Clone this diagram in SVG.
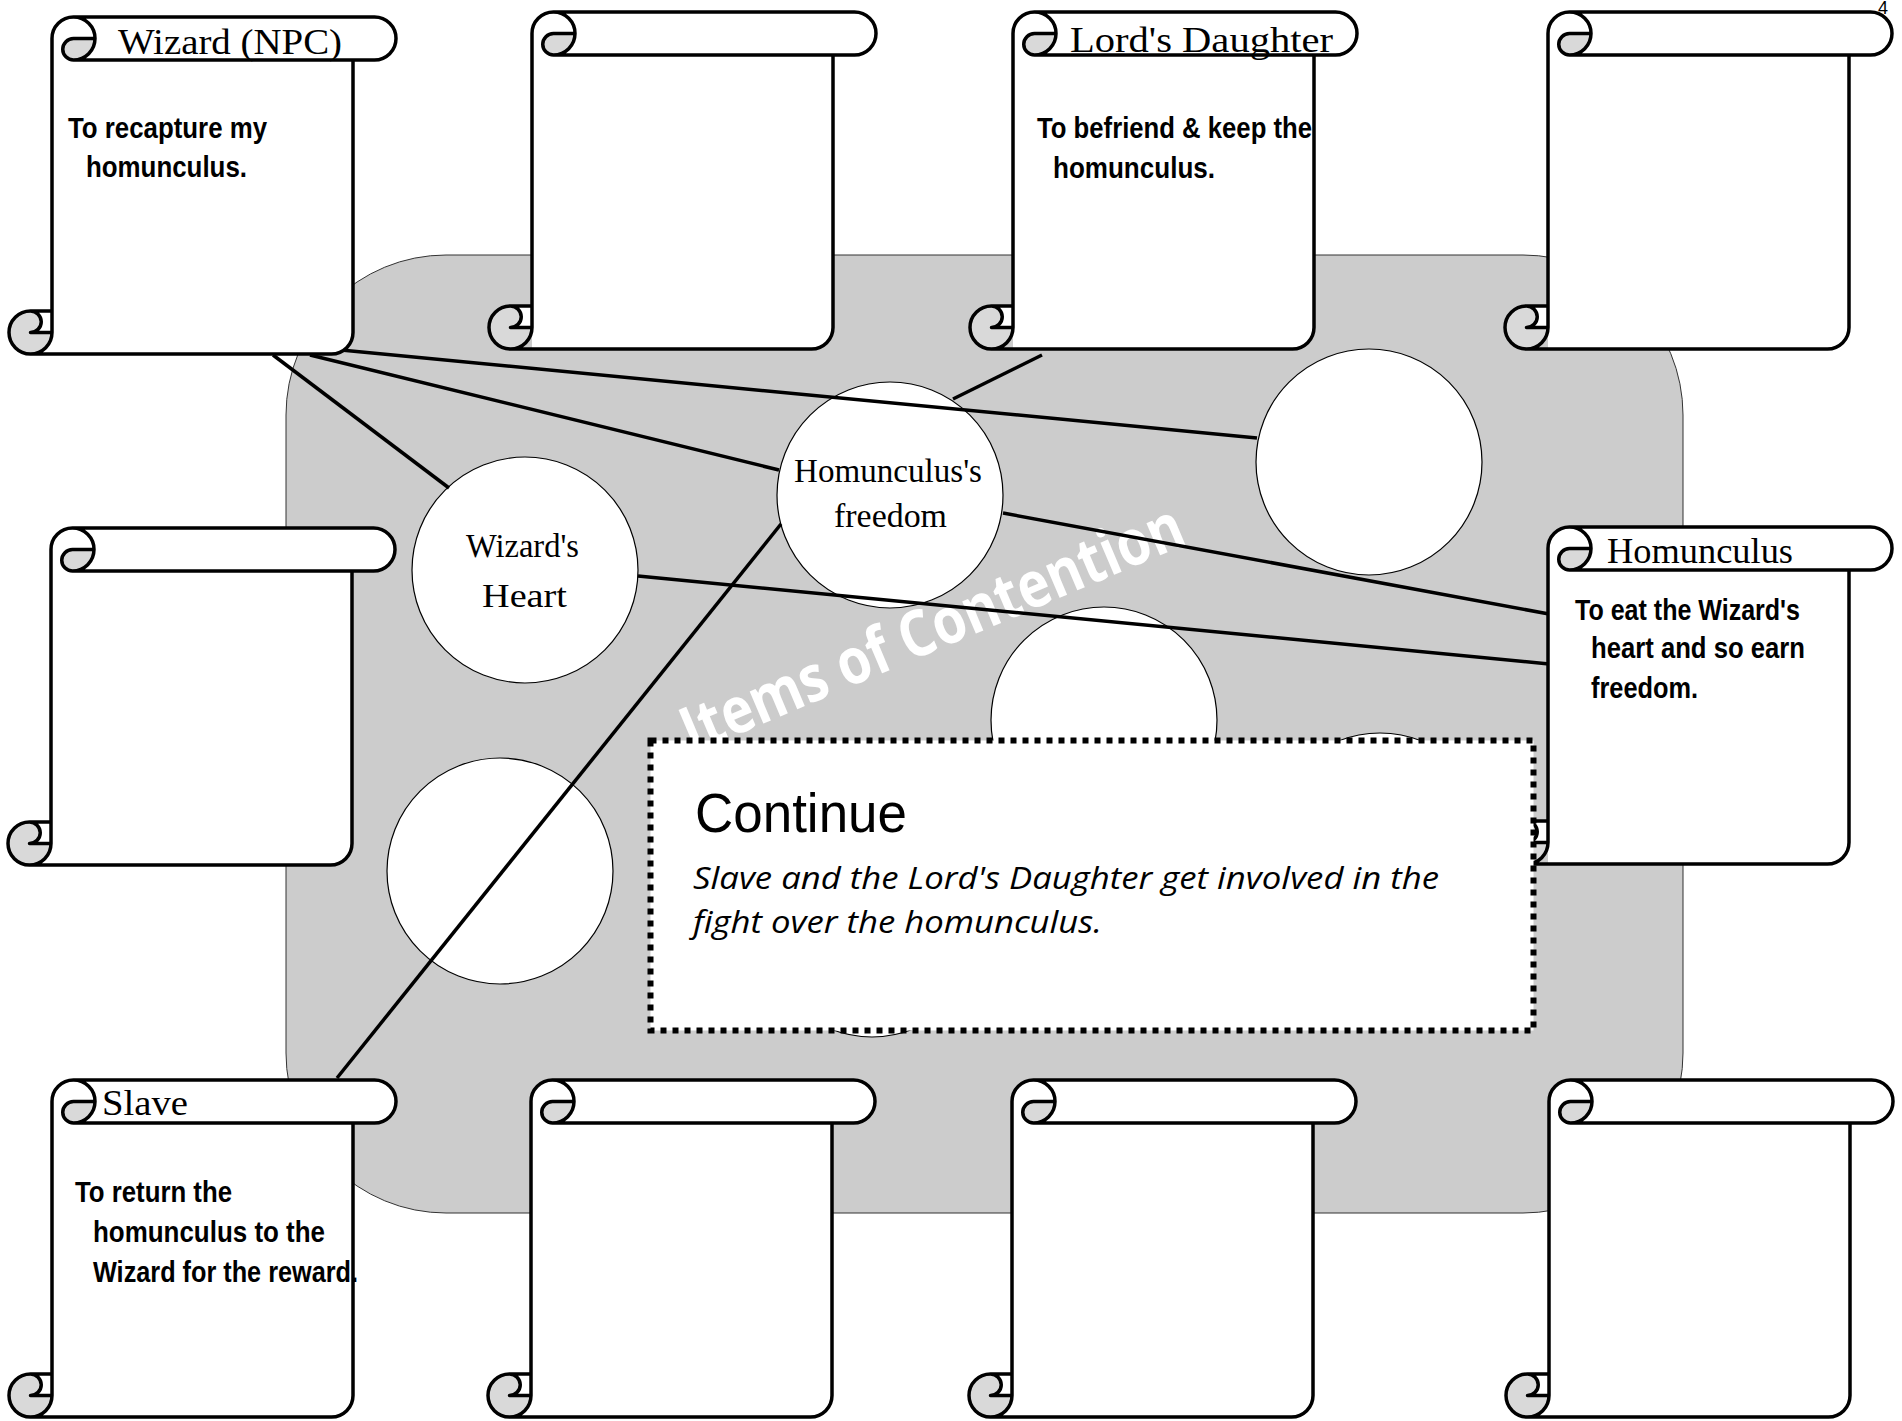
<svg xmlns="http://www.w3.org/2000/svg" xmlns:xlink="http://www.w3.org/1999/xlink" width="1902" height="1421" viewBox="0 0 1902 1421">
<style>
.dk{fill:#d9d9d9;stroke:none}
.wt{fill:#fff;stroke:none}
.ol{fill:none;stroke:#000;stroke-width:3.5;stroke-linejoin:round;stroke-linecap:round}
.item{fill:#fff;stroke:#000;stroke-width:1.2}
.conn{stroke:#000;stroke-width:3.5;fill:none}
.ttl{font-family:"Liberation Serif",serif;font-size:36px;fill:#000}
.ctx{font-family:"Liberation Serif",serif;font-size:33px;fill:#000}
.bd{font-family:"Liberation Sans",Arial,sans-serif;font-weight:bold;font-size:29px;fill:#000}
.it{font-family:"Open Sans",sans-serif;font-style:italic;font-size:31px;fill:#000}
</style>
<defs>
<g id="scroll">
<circle cx="21.5" cy="315.5" r="21.5" class="dk"/>
<path class="wt" d="M21.5,294 H43 V315.5 H21.5 A10.75,10.75 0 0 0 21.5,294 Z"/>
<path class="wt" d="M43,21.5 A21.5,21.5 0 0 1 64.5,0 H365.5 A21.5,21.5 0 0 1 365.5,43 H344 V315.5 A21.5,21.5 0 0 1 322.5,337 H43 Z"/>
<path class="dk" d="M86,21.5 A21.5,21.5 0 0 1 64.5,43 A10.75,10.75 0 0 1 64.5,21.5 Z"/>
<path class="ol" d="M43,294 V21.5 A21.5,21.5 0 0 1 64.5,0 H365.5 A21.5,21.5 0 0 1 365.5,43 H344 V315.5 A21.5,21.5 0 0 1 322.5,337 H21.5 A21.5,21.5 0 0 1 21.5,294 Z M64.5,0 A21.5,21.5 0 0 1 64.5,43 A10.75,10.75 0 0 1 64.5,21.5 H86 M344,43 H64.5 M21.5,294 A10.75,10.75 0 0 1 21.5,315.5 H43 M21.5,337 A21.5,21.5 0 0 0 43,315.5 V294"/>
</g>
</defs>
<rect width="1902" height="1421" fill="#fff"/>
<g id="board">
<rect x="286" y="255" width="1397" height="958" rx="160" ry="160" fill="#cccccc" stroke="#333" stroke-width="1"/>
<text transform="translate(692,754) rotate(-23)" font-family="Open Sans, sans-serif" font-weight="bold" font-size="64" fill="#fff" textLength="540" lengthAdjust="spacingAndGlyphs">Items of Contention</text>
</g>
<g id="item-wizards-heart"><circle class="item" cx="525" cy="570" r="113"/>
<text class="ctx" x="466" y="557" textLength="113" lengthAdjust="spacingAndGlyphs">Wizard's</text>
<text class="ctx" x="482" y="607" textLength="85" lengthAdjust="spacingAndGlyphs">Heart</text></g>
<g id="item-homunculus-freedom"><circle class="item" cx="890" cy="495" r="113"/>
<text class="ctx" x="794" y="482" textLength="188" lengthAdjust="spacingAndGlyphs">Homunculus's</text>
<text class="ctx" x="834" y="527" textLength="113" lengthAdjust="spacingAndGlyphs">freedom</text></g>
<g id="item-3"><circle class="item" cx="1369" cy="462" r="113"/></g>
<g id="item-4"><circle class="item" cx="1104" cy="720" r="113"/></g>
<g id="item-5"><circle class="item" cx="500" cy="871" r="113"/></g>
<g id="item-6"><circle class="item" cx="1380" cy="846" r="113"/></g>
<g id="item-7"><circle class="item" cx="872" cy="924" r="113"/></g>
<g id="connectors">
<line class="conn" x1="273" y1="355" x2="449" y2="488"/>
<line class="conn" x1="310" y1="355" x2="779" y2="470"/>
<line class="conn" x1="341" y1="350" x2="1257" y2="438"/>
<line class="conn" x1="638" y1="576" x2="1549" y2="664"/>
<line class="conn" x1="1003" y1="513" x2="1549" y2="614"/>
<line class="conn" x1="1042" y1="355" x2="953" y2="399"/>
<line class="conn" x1="337" y1="1078" x2="781" y2="524"/>
</g>
<g id="npc-wizard"><use xlink:href="#scroll" href="#scroll" transform="translate(9,17)"/>
<text class="ttl" x="118" y="54" textLength="224" lengthAdjust="spacingAndGlyphs">Wizard (NPC)</text>
<text class="bd" x="68" y="138" textLength="199" lengthAdjust="spacingAndGlyphs">To recapture my</text>
<text class="bd" x="86" y="177" textLength="161" lengthAdjust="spacingAndGlyphs">homunculus.</text></g>
<g id="npc-2"><use xlink:href="#scroll" href="#scroll" transform="translate(489,12)"/></g>
<g id="npc-lords-daughter"><use xlink:href="#scroll" href="#scroll" transform="translate(970,12)"/>
<text class="ttl" x="1070" y="52" textLength="263" lengthAdjust="spacingAndGlyphs">Lord's Daughter</text>
<text class="bd" x="1037" y="138" textLength="275" lengthAdjust="spacingAndGlyphs">To befriend &amp; keep the</text>
<text class="bd" x="1053" y="178" textLength="162" lengthAdjust="spacingAndGlyphs">homunculus.</text></g>
<g id="npc-4"><use xlink:href="#scroll" href="#scroll" transform="translate(1505,12)"/></g>
<g id="npc-5"><use xlink:href="#scroll" href="#scroll" transform="translate(8,528)"/></g>
<g id="npc-homunculus"><use xlink:href="#scroll" href="#scroll" transform="translate(1505,527)"/>
<text class="ttl" x="1607" y="563" textLength="186" lengthAdjust="spacingAndGlyphs">Homunculus</text>
<text class="bd" x="1575" y="620" textLength="225" lengthAdjust="spacingAndGlyphs">To eat the Wizard's</text>
<text class="bd" x="1591" y="658" textLength="214" lengthAdjust="spacingAndGlyphs">heart and so earn</text>
<text class="bd" x="1591" y="698" textLength="107" lengthAdjust="spacingAndGlyphs">freedom.</text></g>
<g id="npc-slave"><use xlink:href="#scroll" href="#scroll" transform="translate(9,1080)"/>
<text class="ttl" x="102" y="1115" textLength="86" lengthAdjust="spacingAndGlyphs">Slave</text>
<text class="bd" x="75" y="1202" textLength="157" lengthAdjust="spacingAndGlyphs">To return the</text>
<text class="bd" x="93" y="1242" textLength="232" lengthAdjust="spacingAndGlyphs">homunculus to the</text>
<text class="bd" x="93" y="1282" textLength="265" lengthAdjust="spacingAndGlyphs">Wizard for the reward.</text></g>
<g id="npc-10"><use xlink:href="#scroll" href="#scroll" transform="translate(488,1080)"/></g>
<g id="npc-11"><use xlink:href="#scroll" href="#scroll" transform="translate(969,1080)"/></g>
<g id="npc-12"><use xlink:href="#scroll" href="#scroll" transform="translate(1506,1080)"/></g>
<g id="continue-box">
<rect x="650.5" y="740.5" width="883" height="290" fill="#fff" stroke="#000" stroke-width="6" stroke-dasharray="6 6"/>
<text x="695" y="832" font-family="Liberation Sans, Arial, sans-serif" font-size="56" textLength="212" lengthAdjust="spacingAndGlyphs" fill="#000">Continue</text>
<text class="it" x="693" y="889" textLength="746" lengthAdjust="spacingAndGlyphs">Slave and the Lord's Daughter get involved in the</text>
<text class="it" x="693" y="933" textLength="409" lengthAdjust="spacingAndGlyphs">fight over the homunculus.</text>
</g>
<text x="1878" y="14" font-family="Liberation Sans, Arial, sans-serif" font-size="18" fill="#000">4</text>
</svg>
